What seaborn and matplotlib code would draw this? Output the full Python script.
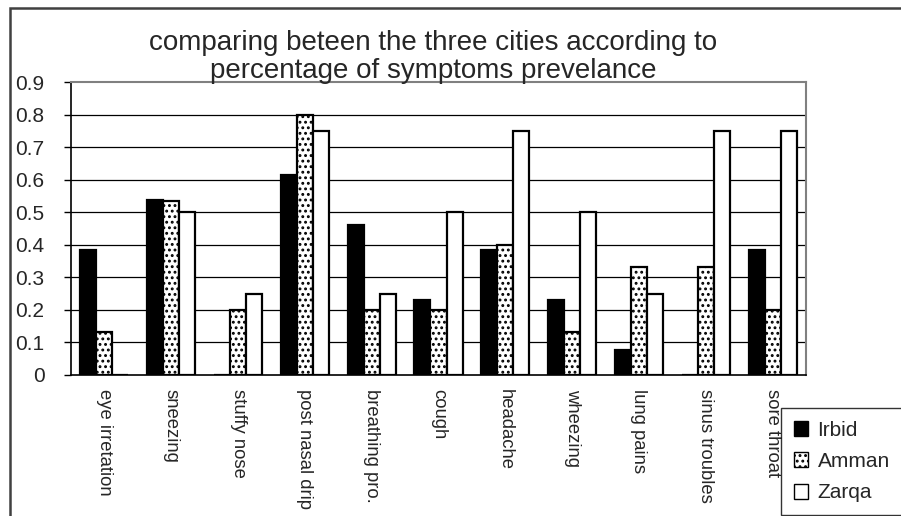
import pandas as pd
import seaborn as sns
import matplotlib.pyplot as plt
from matplotlib.patches import Rectangle, Patch

symptoms = ['eye irretation', 'sneezing', 'stuffy nose', 'post nasal drip',
            'breathing pro.', 'cough', 'headache', 'wheezing', 'lung pains',
            'sinus troubles', 'sore throat']
cities = ['Irbid', 'Amman', 'Zarqa']
irbid = [0.385, 0.538, 0.0, 0.615, 0.462, 0.231, 0.385, 0.231, 0.077, 0.0, 0.385]
amman = [0.133, 0.533, 0.2, 0.8, 0.2, 0.2, 0.4, 0.133, 0.333, 0.333, 0.2]
zarqa = [0.0, 0.5, 0.25, 0.75, 0.25, 0.5, 0.75, 0.5, 0.25, 0.75, 0.75]
yticks = [0, 0.1, 0.2, 0.3, 0.4, 0.5, 0.6, 0.7, 0.8, 0.9]


def run():
    df = pd.DataFrame({
        'symptom': symptoms * 3,
        'city': [c for c in cities for _ in symptoms],
        'value': irbid + amman + zarqa,
    })

    sns.set_style("white")
    plt.rcParams['font.family'] = ['Liberation Sans', 'DejaVu Sans']
    plt.rcParams['hatch.linewidth'] = 1.3

    fig = plt.figure(figsize=(9.01, 5.16), dpi=100)
    ax = fig.add_axes([71 / 901, 1 - 375 / 516, 735 / 901, 293 / 516])

    sns.barplot(data=df, x='symptom', y='value', hue='city', order=symptoms,
                hue_order=cities, palette=['black', 'white', 'white'],
                edgecolor='black', linewidth=1.6, width=0.72, saturation=1,
                ax=ax, legend=False)

    # dotted fill for Amman
    for bar in ax.containers[1]:
        bar.set_hatch('...')
        bar.set_facecolor('white')

    ax.set_ylim(0, 0.9)
    ax.set_xlim(-0.5, len(symptoms) - 0.5)
    ax.set_yticks(yticks)
    ax.set_yticklabels([f'{t:g}' for t in yticks], fontsize=15)
    for t in yticks[1:-1]:
        ax.axhline(t, color='black', linewidth=0.9, zorder=0)
    ax.set_axisbelow(True)

    ax.set_xticks([i - 0.5 for i in range(len(symptoms) + 1)], minor=True)
    ax.set_xticks(range(len(symptoms)))
    ax.set_xticklabels(symptoms, rotation=-90, fontsize=13.3, va='top', ha='center')
    ax.tick_params(axis='x', which='major', length=0, pad=10)
    ax.tick_params(axis='x', which='minor', length=6, width=1, direction='out', color='black')
    ax.tick_params(axis='y', length=5, width=1, direction='out', color='black', pad=14,
                   left=True)
    ax.set_xlabel('')
    ax.set_ylabel('')

    for side in ['left', 'bottom']:
        ax.spines[side].set_color('black')
        ax.spines[side].set_linewidth(1.2)
    for side in ['top', 'right']:
        ax.spines[side].set_color('#808080')
        ax.spines[side].set_linewidth(1.5)

    fig.text(433 / 901, 1 - 57 / 516,
             'comparing beteen the three cities according to\npercentage of symptoms prevelance',
             ha='center', va='center', fontsize=20, linespacing=1.15)

    # legend
    handles = [Patch(facecolor='black', edgecolor='black'),
               Patch(facecolor='white', edgecolor='black', hatch='...'),
               Patch(facecolor='white', edgecolor='black')]
    leg = fig.legend(handles, cities, loc='upper left',
                     bbox_to_anchor=(781 / 901, 1 - 408 / 516), fontsize=15,
                     frameon=True, fancybox=False, edgecolor='black',
                     handlelength=0.7, handleheight=0.7, handletextpad=0.45,
                     labelspacing=0.6, borderpad=0.6, borderaxespad=0)
    leg.get_frame().set_linewidth(1.0)

    # outer chart frame
    fig.patches.append(Rectangle((10 / 901, -0.1), 1.0, 1 - 8 / 516 + 0.1,
                                 transform=fig.transFigure, fill=False,
                                 edgecolor='#404040', linewidth=1.8))

    fig.savefig('out.png', dpi=100)
    plt.close()


if __name__ == "__main__":
    run()
